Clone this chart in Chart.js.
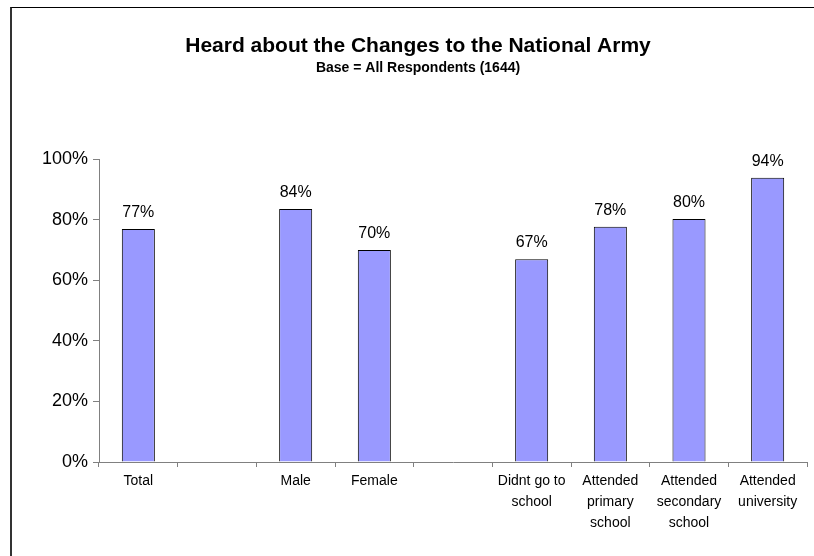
<!DOCTYPE html>
<html>
<head>
<meta charset="utf-8">
<script src="https://cdn.jsdelivr.net/npm/chart.js@4/dist/chart.umd.min.js"></script>
<style>
  html, body { margin: 0; padding: 0; background: #fff; }
  #wrap { position: relative; width: 814px; height: 556px; overflow: hidden; }
  #frame { position: absolute; left: 10px; top: 7px; width: 820px; height: 560px;
           border-top: 1px solid #000; border-left: 2px solid #333; pointer-events: none; box-sizing: border-box; }
  canvas { position: absolute; left: 0; top: 0; }
</style>
</head>
<body>
<div id="wrap">
  <canvas id="c" width="814" height="556"></canvas>
  <div id="frame"></div>
</div>
<script>
const titleText = 'Heard about the Changes to the National Army';
const subtitleText = 'Base = All Respondents (1644)';
const categories = ['Total', '', 'Male', 'Female', '', ['Didnt go to', 'school'], ['Attended', 'primary', 'school'], ['Attended', 'secondary', 'school'], ['Attended', 'university']];
const heardValues = [76.9, null, 83.5, 70.0, null, 66.9, 77.6, 80.2, 93.8];
const yTicks = [0, 20, 40, 60, 80, 100];

const barLabels = {
  id: 'barLabels',
  afterDatasetsDraw(chart) {
    const ctx = chart.ctx;
    const meta = chart.getDatasetMeta(0);
    ctx.save();
    ctx.font = '16px "Liberation Sans", Arial, sans-serif';
    ctx.fillStyle = '#000';
    ctx.textAlign = 'center';
    ctx.textBaseline = 'alphabetic';
    meta.data.forEach((bar, i) => {
      const v = heardValues[i];
      if (v === null || v === undefined) return;
      ctx.fillText(Math.round(v) + '%', bar.x, bar.y - 12);
    });
    ctx.restore();
  }
};

new Chart(document.getElementById('c'), {
  type: 'bar',
  data: {
    labels: categories,
    datasets: [{
      data: heardValues,
      backgroundColor: '#9999FF',
      borderColor: '#000000',
      borderWidth: 1,
      barPercentage: 0.42,
      categoryPercentage: 1.0
    }]
  },
  options: {
    responsive: false,
    animation: false,
    devicePixelRatio: 1,
    layout: { padding: { left: 29, right: 7, top: 34, bottom: 0 } },
    plugins: {
      legend: { display: false },
      tooltip: { enabled: false },
      title: {
        display: true,
        text: titleText,
        color: '#000',
        font: { family: '"Liberation Sans", Arial, sans-serif', size: 21, weight: 'bold', lineHeight: 1.2 },
        padding: { top: 0, bottom: 1 }
      },
      subtitle: {
        display: true,
        text: subtitleText,
        color: '#000',
        font: { family: '"Liberation Sans", Arial, sans-serif', size: 14, weight: 'bold', lineHeight: 1.2 },
        padding: { top: 0, bottom: 82 }
      }
    },
    scales: {
      x: {
        grid: { display: true, drawOnChartArea: false, drawTicks: true, tickLength: 5, color: '#808080', offset: true },
        border: { display: true, color: '#808080', width: 1 },
        ticks: {
          color: '#000',
          font: { family: '"Liberation Sans", Arial, sans-serif', size: 14, lineHeight: 1.48 },
          padding: 4,
          maxRotation: 0,
          minRotation: 0,
          autoSkip: false
        },
        afterFit(scale) { scale.height = 94; }
      },
      y: {
        min: 0,
        max: 100,
        afterBuildTicks(scale) { scale.ticks = yTicks.map(v => ({ value: v })); },
        grid: { display: true, drawOnChartArea: false, drawTicks: true, tickLength: 6, color: '#808080' },
        border: { display: true, color: '#808080', width: 1 },
        ticks: {
          color: '#000',
          font: { family: '"Liberation Sans", Arial, sans-serif', size: 18 },
          padding: 5,
          callback: v => v + '%'
        },
        afterFit(scale) { scale.width = 70; }
      }
    }
  },
  plugins: [barLabels]
});
</script>
</body>
</html>
